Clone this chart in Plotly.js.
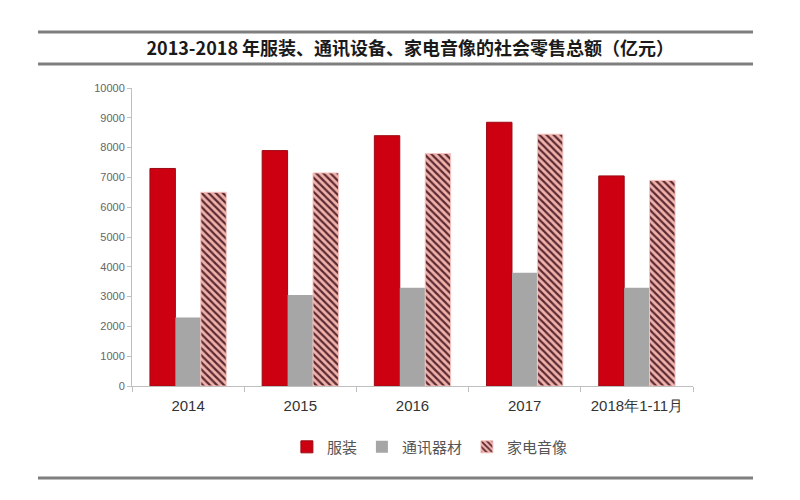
<!DOCTYPE html>
<html>
<head>
<meta charset="utf-8">
<script src="https://cdn.plot.ly/plotly-3.0.1.min.js"></script>
<style>
  html, body { margin: 0; padding: 0; background: #ffffff; }
  #chart { width: 800px; height: 500px; }
</style>
</head>
<body>
<div id="chart"></div>
<script>
// Data (亿元)
const categories = ["2014", "2015", "2016", "2017", "2018年1-11月"];
const seriesNames = ["服装", "通讯器材", "家电音像"];
const clothing = [7300, 7900, 8400, 8850, 7050];
const telecom = [2300, 3050, 3300, 3800, 3300];
const appliances = [6500, 7150, 7800, 8450, 6900];
const yTicks = [0, 1000, 2000, 3000, 4000, 5000, 6000, 7000, 8000, 9000, 10000];
const chartTitle = "2013-2018 年服装、通讯设备、家电音像的社会零售总额（亿元）";

const cjk = '"Noto Sans CJK SC", "Noto Sans", sans-serif';

const traces = [
  {
    type: "bar", name: seriesNames[0], x: categories, y: clothing,
    marker: { color: "#cc0010", line: { color: "#9b0a14", width: 1 } },
    hoverinfo: "x+y"
  },
  {
    type: "bar", name: seriesNames[1], x: categories, y: telecom,
    marker: { color: "#a6a6a6", line: { color: "#a6a6a6", width: 0 } },
    hoverinfo: "x+y"
  },
  {
    type: "bar", name: seriesNames[2], x: categories, y: appliances,
    marker: {
      color: "#f2b2ac",
      line: { color: "#f6c4c0", width: 1 },
      pattern: { shape: "\\", bgcolor: "#f2b2ac", fgcolor: "#5a2a32", size: 5, solidity: 0.45, fillmode: "replace" }
    },
    hoverinfo: "x+y"
  }
];

const lineColor = "#7f7f7f";
const layout = {
  width: 800, height: 500,
  margin: { l: 132, r: 107, t: 88, b: 114 },
  paper_bgcolor: "#ffffff", plot_bgcolor: "#ffffff",
  barmode: "group", bargap: 0.32, bargroupgap: 0,
  title: {
    text: chartTitle,
    x: 0.496, xanchor: "center", xref: "paper",
    y: 0.902, yanchor: "middle", yref: "container",
    font: { family: cjk, size: 18, color: "#1a1a1a", weight: 700 }
  },
  xaxis: {
    type: "category",
    showline: true, linecolor: "#bfbfbf", linewidth: 1,
    ticks: "outside", tickson: "boundaries", ticklen: 5, tickcolor: "#bfbfbf",
    ticklabelstandoff: 6,
    tickfont: { family: '"Liberation Sans Narrow", "Liberation Sans", sans-serif', size: 15, color: "#333333" },
    showgrid: false, zeroline: false
  },
  yaxis: {
    range: [0, 10000], tickvals: yTicks, ticktext: yTicks.map(String),
    showline: true, linecolor: "#bfbfbf", linewidth: 1,
    ticks: "outside", ticklen: 4, tickcolor: "#bfbfbf",
    tickfont: { family: '"Liberation Sans Narrow", "Liberation Sans", sans-serif', size: 11, color: "#666666" },
    showgrid: false, zeroline: false
  },
  showlegend: true,
  legend: {
    orientation: "h", x: 0.531, xanchor: "center", y: -0.205, yanchor: "middle",
    font: { family: cjk, size: 15, color: "#555555" },
    itemwidth: 30, traceorder: "normal", bgcolor: "rgba(0,0,0,0)"
  },
  shapes: [
    { type: "line", xref: "paper", yref: "paper", x0: -0.1676, x1: 1.107, y0: 1.188, y1: 1.188, line: { color: lineColor, width: 3 } },
    { type: "line", xref: "paper", yref: "paper", x0: -0.1676, x1: 1.107, y0: 1.0805, y1: 1.0805, line: { color: lineColor, width: 3 } },
    { type: "line", xref: "paper", yref: "paper", x0: -0.1676, x1: 1.107, y0: -0.3087, y1: -0.3087, line: { color: lineColor, width: 3 } }
  ]
};

Plotly.newPlot("chart", traces, layout, { displayModeBar: false, staticPlot: true });
</script>
</body>
</html>
